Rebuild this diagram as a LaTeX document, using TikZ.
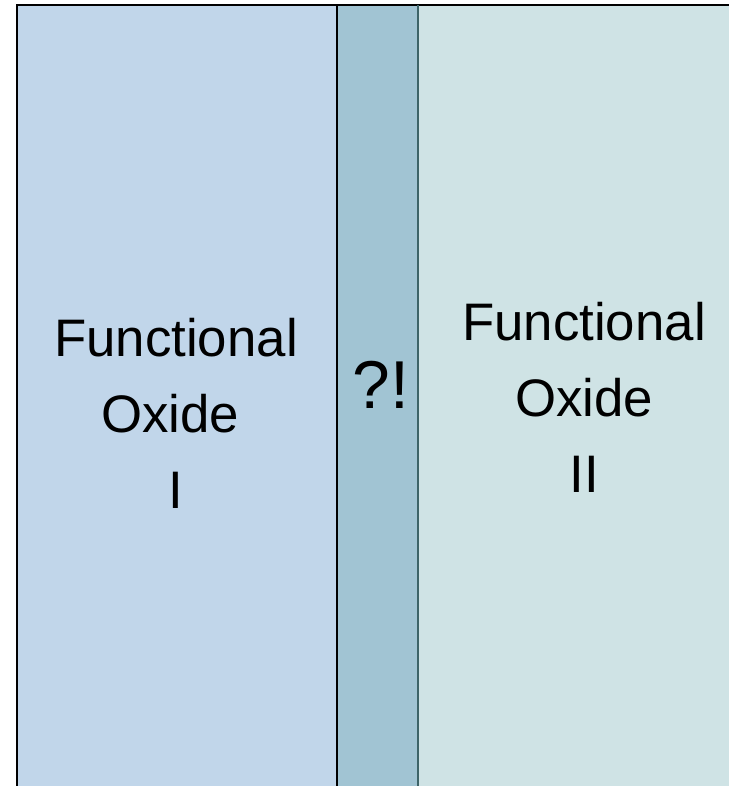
\documentclass[tikz,border=0pt]{standalone}
\usepackage{fontspec}
\setmainfont{Liberation Sans}
\definecolor{leftfill}{HTML}{C1D6EA}
\definecolor{midfill}{HTML}{A1C4D3}
\definecolor{rightfill}{HTML}{CFE3E5}
\definecolor{midline}{HTML}{3E6468}
\begin{document}
\begin{tikzpicture}[x=1bp,y=-1bp,
  lbl/.style={font=\fontsize{53}{76}\selectfont, align=center, inner sep=0pt, anchor=base},
  qlbl/.style={font=\fontsize{68}{76}\selectfont, inner sep=0pt, anchor=base}]
\useasboundingbox (0,0) rectangle (729,786);
\fill[leftfill] (17,5) rectangle (337,790);
\fill[midfill] (337,5) rectangle (418,790);
\fill[rightfill] (418,5) rectangle (735,790);
\draw[line width=2.5bp] (17,790) -- (17,5) -- (735,5);
\draw[line width=1.6bp] (337,5) -- (337,790);
\draw[line width=1.6bp, midline] (418,5) -- (418,790);
\node[lbl] (fo1a) at (176,356) {Functional};
\node[lbl] (fo1b) at (170,432) {Oxide};
\node[lbl] (fo1c) at (176,508) {I};
\node[lbl] (fo2a) at (584,340) {Functional};
\node[lbl] (fo2b) at (584,416) {Oxide};
\node[lbl] (fo2c) at (584,492) {II};
\node[qlbl] (q) at (381,408) {?!};
\end{tikzpicture}
\end{document}
